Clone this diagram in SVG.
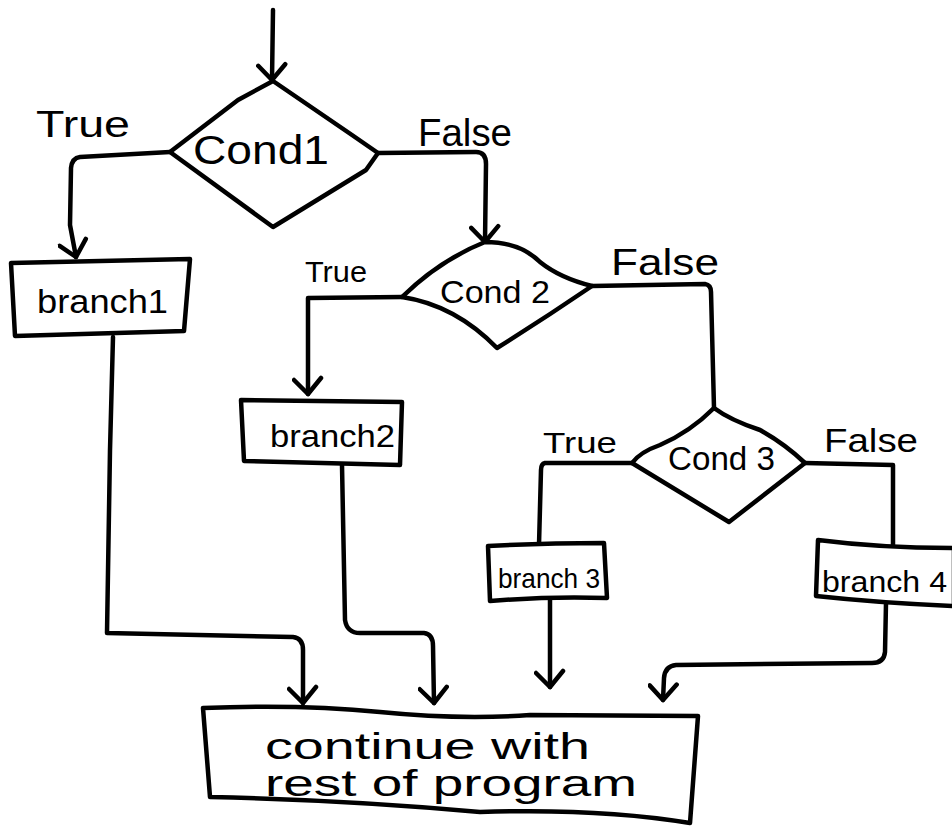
<svg xmlns="http://www.w3.org/2000/svg" width="952" height="829" viewBox="0 0 952 829">
<defs>
<style>
.s{fill:none;stroke:#000;stroke-width:4.5;stroke-linecap:round;stroke-linejoin:round}
.n{fill:#fff;stroke:#000;stroke-width:4.5;stroke-linecap:round;stroke-linejoin:round}
text{font-family:"Liberation Sans","DejaVu Sans",sans-serif;fill:#000}
</style>
<marker id="arr" viewBox="-22 -16 26 32" refX="0" refY="0" markerWidth="26" markerHeight="32" markerUnits="userSpaceOnUse" orient="auto">
<path d="M-16,-13 L0,0 L-14,14" fill="none" stroke="#000" stroke-width="4.5" stroke-linecap="round" stroke-linejoin="round"/>
</marker>
</defs>
<rect width="952" height="829" fill="#fff"/>
<g id="connectors">
<path class="s" d="M273,10 L272,80" marker-end="url(#arr)"/>
<path class="s" d="M170,152 L80,157 Q72,158 71,168 L70,225 L76,257" marker-end="url(#arr)"/>
<path class="s" d="M113,337 L110,450 L107,633 L293,637 Q303,638 303,650 L303,703" marker-end="url(#arr)"/>
<path class="s" d="M378,153 L476,152 Q486,152 486,164 L485,242" marker-end="url(#arr)"/>
<path class="s" d="M402,297 L308,298 L308,394" marker-end="url(#arr)"/>
<path class="s" d="M342,465 L345,620 Q347,633 360,633 L424,633 Q433,634 433,646 L434,703" marker-end="url(#arr)"/>
<path class="s" d="M592,286 L705,284 Q711,285 711,292 L714,408"/>
<path class="s" d="M632,463 L545,463 Q541,464 541,470 L539,545"/>
<path class="s" d="M805,463 L893,465 L893,548"/>
<path class="s" d="M550,600 L550,687" marker-end="url(#arr)"/>
<path class="s" d="M886,603 L885,652 Q884,663 872,663 L676,665 Q665,666 664,678 L663,700" marker-end="url(#arr)"/>
<text x="36" y="137" font-size="36" textLength="94" lengthAdjust="spacingAndGlyphs">True</text>
<text x="418" y="146" font-size="38" textLength="94" lengthAdjust="spacingAndGlyphs">False</text>
<text x="305" y="282" font-size="30" textLength="62" lengthAdjust="spacingAndGlyphs">True</text>
<text x="611" y="275" font-size="36" textLength="108" lengthAdjust="spacingAndGlyphs">False</text>
<text x="543" y="453" font-size="30" textLength="74" lengthAdjust="spacingAndGlyphs">True</text>
<text x="824" y="452" font-size="34" textLength="94" lengthAdjust="spacingAndGlyphs">False</text>
</g>
<g id="cond1">
<path class="n" d="M273,81 L238,100 L170,152 L273,227 L366,170 L378,153 L352,135 Z"/>
<text x="193" y="164" font-size="40" textLength="136" lengthAdjust="spacingAndGlyphs">Cond1</text>
</g>
<g id="cond2">
<path class="n" d="M485,242 Q440,260 402,297 Q455,305 497,348 Q545,318 592,286 Q560,278 540,262 Q520,242 485,242 Z"/>
<text x="440" y="303" font-size="32" textLength="110" lengthAdjust="spacingAndGlyphs">Cond 2</text>
</g>
<g id="cond3">
<path class="n" d="M714,408 Q690,432 660,445 Q640,452 632,463 L729,522 L805,463 Q785,444 760,430 Q730,420 714,408 Z"/>
<text x="668" y="470" font-size="34" textLength="107" lengthAdjust="spacingAndGlyphs">Cond 3</text>
</g>
<g id="branch1">
<path class="n" d="M11,263 L190,259 L184,331 L15,336 Z"/>
<text x="37" y="313" font-size="34" textLength="131" lengthAdjust="spacingAndGlyphs">branch1</text>
</g>
<g id="branch2">
<path class="n" d="M241,400 L402,402 L400,465 L244,461 Z"/>
<text x="270" y="447" font-size="32" textLength="125" lengthAdjust="spacingAndGlyphs">branch2</text>
</g>
<g id="branch3">
<path class="n" d="M488,546 Q545,543 604,543 L607,598 Q550,596 490,601 Z"/>
<text x="498" y="588" font-size="28" textLength="102" lengthAdjust="spacingAndGlyphs">branch 3</text>
</g>
<g id="branch4">
<path class="n" d="M818,540 Q880,548 954,548 L954,606 Q880,603 816,596 Z"/>
<text x="822" y="592" font-size="30" textLength="125" lengthAdjust="spacingAndGlyphs">branch 4</text>
</g>
<g id="end">
<path class="n" d="M203,708 Q300,704 380,712 Q460,720 530,715 L698,716 L690,823 Q600,808 480,812 Q350,800 210,797 Z"/>
<text x="265" y="759" font-size="36" textLength="325" lengthAdjust="spacingAndGlyphs">continue with</text>
<text x="265" y="796" font-size="36" textLength="372" lengthAdjust="spacingAndGlyphs">rest of program</text>
</g>
</svg>
